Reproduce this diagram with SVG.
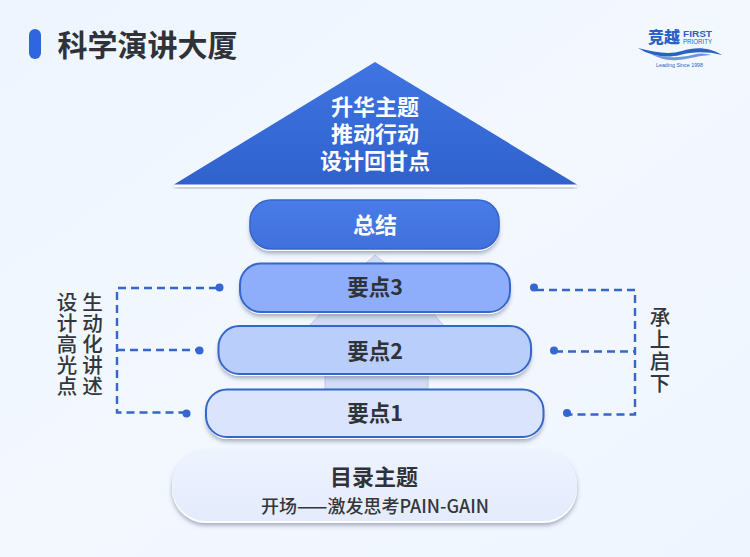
<svg xmlns="http://www.w3.org/2000/svg" width="750" height="557" viewBox="0 0 750 557">
<style>
text{font-family:"Noto Sans CJK SC","Noto Sans",sans-serif;text-anchor:middle}
.b{font-weight:700;font-size:21.500px;fill:#2f3338}
.w{font-weight:700;font-size:22px;fill:#fff}
.s{font-weight:500;font-size:20.500px;fill:#33373c;writing-mode:vertical-rl;text-anchor:start}
.d{fill:none;stroke:#3566c9;stroke-width:2.400;stroke-dasharray:8 5}
.dot{fill:#3566d2}
.bk{fill:#d3dcf5;stroke:#bdcaee;stroke-width:1}
.rim{fill:#fff}
.l{font-family:"Liberation Sans",sans-serif;fill:#2a62c4}
</style>
<defs>
<linearGradient id="bg" x1="0" y1="0" x2="1" y2="1"><stop offset="0" stop-color="#eef5ff"/><stop offset=".5" stop-color="#f3f8ff"/><stop offset="1" stop-color="#eff5ff"/></linearGradient>
<linearGradient id="tri" x1="0" y1="0" x2="0" y2="1"><stop offset="0" stop-color="#3f74e2"/><stop offset="1" stop-color="#2f62cd"/></linearGradient>
<linearGradient id="top" x1="0" y1="0" x2="0" y2="1"><stop offset="0" stop-color="#4a7ce8"/><stop offset="1" stop-color="#3f70dc"/></linearGradient>
<linearGradient id="base" x1="0" y1="0" x2="0" y2="1"><stop offset="0" stop-color="#eef3ff"/><stop offset="1" stop-color="#e4ebfc"/></linearGradient>
<filter id="sh" x="-10%" y="-30%" width="120%" height="170%"><feDropShadow dx="0" dy="2.500" stdDeviation="2.200" flood-color="#56607c" flood-opacity=".5"/></filter>
</defs>
<rect width="750" height="557" fill="url(#bg)"/>
<g id="title">
<rect x="29" y="29" width="12" height="30" rx="6" fill="#2f66e0"/>
<text x="147.500" y="56" style="font-size:30px;font-weight:700;fill:#2f3338">科学演讲大厦</text>
</g>
<g id="logo">
<text x="664" y="43" style="font-size:16px;font-weight:900;fill:#2a62c4">竞越</text>
<text x="697.500" y="36.500" class="l" style="font-size:9px;font-weight:700" textLength="29" lengthAdjust="spacingAndGlyphs">FIRST</text>
<text x="697.500" y="43.500" class="l" style="font-size:7px" textLength="29" lengthAdjust="spacingAndGlyphs">PRIORITY</text>
<path d="M638 48C655 52 668 55 682 51S708 47 722 55C705 51 692 52 680 55S652 57 638 48Z" fill="#2a62c4"/>
<path d="M650 54C665 58 680 58 692 55S705 54 712 55C700 55 690 59 678 60S660 58 650 54Z" fill="#6f97dc"/>
<text x="679.500" y="66.500" class="l" style="font-size:6px" textLength="47" lengthAdjust="spacingAndGlyphs">Leading Since 1998</text>
</g>
<g id="roof">
<rect x="175" y="184" width="401" height="3" class="rim" filter="url(#sh)"/>
<path d="M375 62L577 184.500H174Z" fill="url(#tri)"/>
<text x="375" y="115" class="w">升华主题</text>
<text x="375" y="142" class="w">推动行动</text>
<text x="375" y="169" class="w">设计回甘点</text>
</g>
<g id="supports">
<path class="bk" d="M366 263L375 255L385 263Z"/>
<path class="bk" d="M309 326L322 312H432L444 326Z"/>
<path class="bk" d="M325 374H428V389H325Z"/>
</g>
<g id="n5">
<rect x="250" y="201" width="249" height="50" rx="21" class="rim" filter="url(#sh)"/>
<rect x="250" y="200" width="249" height="49" rx="21" fill="url(#top)" stroke="#3565cb" stroke-width="1.500"/>
<text x="375" y="233" class="w">总结</text>
</g>
<g id="n4">
<rect x="240" y="265" width="270" height="49" rx="21" class="rim" filter="url(#sh)"/>
<rect x="240" y="263.500" width="270" height="48.500" rx="21" fill="#8eadfb" stroke="#3566c9" stroke-width="2"/>
<text x="375" y="295" class="b">要点3</text>
</g>
<g id="n3">
<rect x="218.500" y="327" width="312.500" height="49" rx="21" class="rim" filter="url(#sh)"/>
<rect x="218.500" y="326" width="312.500" height="48" rx="21" fill="#b9cefb" stroke="#3566c9" stroke-width="2"/>
<text x="375" y="359" class="b">要点2</text>
</g>
<g id="n2">
<rect x="206" y="391" width="337.500" height="48" rx="21" class="rim" filter="url(#sh)"/>
<rect x="206" y="389.500" width="337.500" height="47.500" rx="21" fill="#dae4fd" stroke="#3566c9" stroke-width="2"/>
<text x="375" y="421" class="b">要点1</text>
</g>
<g id="n1">
<rect x="172" y="451" width="405" height="72" rx="34" class="rim" filter="url(#sh)"/>
<rect x="172" y="450" width="405" height="71" rx="34" fill="url(#base)"/>
<text x="374" y="485" style="font-size:22px;font-weight:700;fill:#2f3338">目录主题</text>
<text x="375" y="513" style="font-size:18px;font-weight:500;fill:#33373c">开场——激发思考PAIN-GAIN</text>
</g>
<g id="connectors">
<path class="d" d="M217 288H117V412.500H185"/>
<path class="d" d="M117 350H197"/>
<path class="d" d="M536 290H635V414.500H568"/>
<path class="d" d="M555 351.500H635"/>
<circle class="dot" cx="219.500" cy="287.500" r="4"/>
<circle class="dot" cx="199.500" cy="350.500" r="4"/>
<circle class="dot" cx="186.500" cy="413.500" r="4"/>
<circle class="dot" cx="534" cy="287.500" r="4"/>
<circle class="dot" cx="554" cy="350.500" r="4"/>
<circle class="dot" cx="567" cy="413" r="4"/>
</g>
<g id="label-left">
<text x="67" y="291.500" class="s" style="letter-spacing:.5px">设计高光点</text>
<text x="92.500" y="291.500" class="s" style="letter-spacing:.5px">生动化讲述</text>
</g>
<g id="label-right">
<text x="660" y="307" class="s" style="letter-spacing:1.500px">承上启下</text>
</g>
</svg>
